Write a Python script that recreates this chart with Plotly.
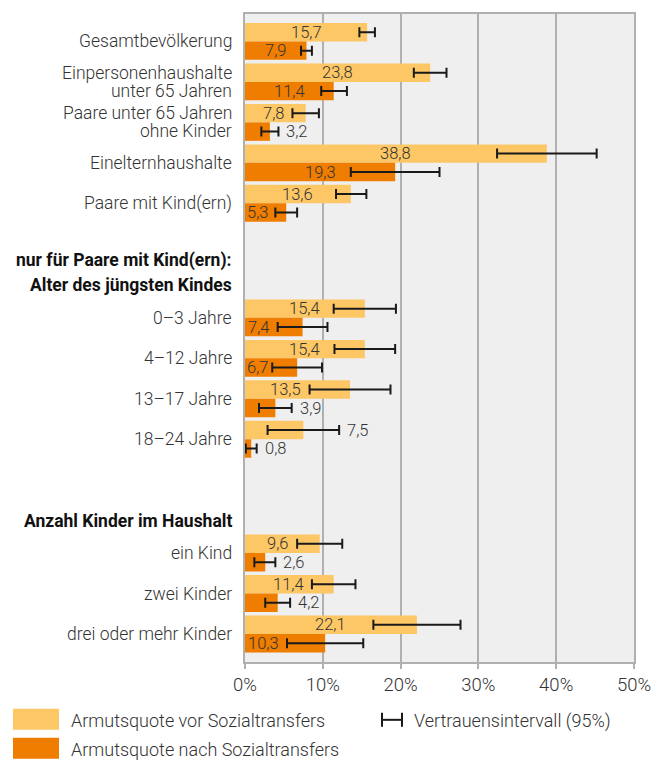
import plotly.graph_objects as go

# ---------------- data ----------------
main_labels = ["Gesamtbevölkerung", "Einpersonenhaushalte<br>unter 65 Jahren",
               "Paare unter 65 Jahren<br>ohne Kinder", "Einelternhaushalte", "Paare mit Kind(ern)"]
main_before = [15.7, 23.8, 7.8, 38.8, 13.6]
main_before_lo = [14.7, 21.7, 6.1, 32.4, 11.7]
main_before_hi = [16.7, 25.9, 9.5, 45.2, 15.6]
main_after = [7.9, 11.4, 3.2, 19.3, 5.3]
main_after_lo = [7.2, 9.8, 2.1, 13.6, 3.9]
main_after_hi = [8.6, 13.1, 4.3, 25.0, 6.7]

age_header = ["nur für Paare mit Kind(ern):", "Alter des jüngsten Kindes"]
age_labels = ["0–3 Jahre", "4–12 Jahre", "13–17 Jahre", "18–24 Jahre"]
age_before = [15.4, 15.4, 13.5, 7.5]
age_before_lo = [11.4, 11.5, 8.3, 2.9]
age_before_hi = [19.4, 19.3, 18.7, 12.1]
age_after = [7.4, 6.7, 3.9, 0.8]
age_after_lo = [4.2, 3.5, 1.8, 0.1]
age_after_hi = [10.6, 9.9, 6.0, 1.5]

kids_header = ["Anzahl Kinder im Haushalt"]
kids_labels = ["ein Kind", "zwei Kinder", "drei oder mehr Kinder"]
kids_before = [9.6, 11.4, 22.1]
kids_before_lo = [6.7, 8.6, 16.5]
kids_before_hi = [12.5, 14.2, 27.7]
kids_after = [2.6, 4.2, 10.3]
kids_after_lo = [1.2, 2.6, 5.4]
kids_after_hi = [3.9, 5.8, 15.2]

x_ticks = [0, 10, 20, 30, 40, 50]
x_ticktext = ["0%", "10%", "20%", "30%", "40%", "50%"]

legend_before = "Armutsquote vor Sozialtransfers"
legend_after = "Armutsquote nach Sozialtransfers"
legend_ci = "Vertrauensintervall (95%)"

# ---------------- layout constants ----------------
PAGE_OFF = 8  # default body margin of the html page
W, H = 662 - PAGE_OFF, 760 - PAGE_OFF
L, R, T, B = 245 - PAGE_OFF, 28, 12 - PAGE_OFF, 98
PW, PH = W - L - R, H - T - B
PX_PER_PCT = PW / 50.0
SLOT_PX = 40.6
FIRST_PX = 39.5 - PAGE_OFF  # pixel centre of first group
Y_TOP = -(FIRST_PX - T) / SLOT_PX
Y_BOT = (H - B - FIRST_PX) / SLOT_PX

AGE_START = 6.83
KIDS_START = 12.64
AGE_HEADER_POS = [5.41, 6.03]
KIDS_HEADER_POS = [11.86]

LIGHT = "#FDC766"
DARK = "#EF7D00"
TXT = "#333333"
FONT = "Roboto"

main_pos = [float(i) for i in range(len(main_labels))]
age_pos = [AGE_START + i for i in range(len(age_labels))]
kids_pos = [KIDS_START + i for i in range(len(kids_labels))]

ypos = main_pos + age_pos + kids_pos
labels = main_labels + age_labels + kids_labels
before = main_before + age_before + kids_before
before_lo = main_before_lo + age_before_lo + kids_before_lo
before_hi = main_before_hi + age_before_hi + kids_before_hi
after = main_after + age_after + kids_after
after_lo = main_after_lo + age_after_lo + kids_after_lo
after_hi = main_after_hi + age_after_hi + kids_after_hi

BW = 0.456

fig = go.Figure()
for vals, lo, hi, col, off in [(before, before_lo, before_hi, LIGHT, -BW),
                               (after, after_lo, after_hi, DARK, 0.0)]:
    fig.add_trace(go.Bar(
        x=vals, y=ypos, orientation="h", width=BW, offset=off,
        marker=dict(color=col, line=dict(width=0)),
        error_x=dict(type="data", symmetric=False,
                     array=[h - v for h, v in zip(hi, vals)],
                     arrayminus=[v - l for v, l in zip(vals, lo)],
                     color="#1a1a1a", thickness=2, width=5),
        showlegend=False, hoverinfo="skip"))

annotations = []
VAL_FS = 16.5


def fmt(v):
    return f"{v:.1f}".replace(".", ",")


def text_w(s):
    return sum(4.0 if c == "," else 9.2 for c in s) * VAL_FS / 16.5


GAP = 8
for vals, lo, hi, off in [(before, before_lo, before_hi, -BW / 2), (after, after_lo, after_hi, BW / 2)]:
    for y, v, l, h in zip(ypos, vals, lo, hi):
        s = fmt(v)
        w = text_w(s)
        if l * PX_PER_PCT >= w + 4:
            c = min(v / 2 * PX_PER_PCT, l * PX_PER_PCT - GAP - w / 2)
            c = max(c, w / 2 + 1.5)
            annotations.append(dict(x=c / PX_PER_PCT, y=y + off, xref="x", yref="y",
                                    text=s, showarrow=False, xanchor="center", yanchor="middle",
                                    font=dict(family=FONT, size=VAL_FS, color=TXT, weight=300)))
        else:
            annotations.append(dict(x=h, y=y + off, xref="x", yref="y", xshift=6,
                                    text=s, showarrow=False, xanchor="left", yanchor="middle",
                                    font=dict(family=FONT, size=VAL_FS, color=TXT, weight=300)))

CAT_FS = 17.5
LINE_PX = 18
for y, lab in zip(ypos, labels):
    lines = lab.split("<br>")
    n = len(lines)
    for i, ln in enumerate(lines):
        annotations.append(dict(x=0, y=y, xref="paper", yref="y", xanchor="right", yanchor="middle",
                                xshift=-11, yshift=((n - 1) / 2 - i) * LINE_PX, text=ln, showarrow=False,
                                font=dict(family=FONT, size=CAT_FS, color=TXT, weight=300)))

for y, lab in zip(AGE_HEADER_POS + KIDS_HEADER_POS, age_header + kids_header):
    annotations.append(dict(x=0, y=y, xref="paper", yref="y", xanchor="right", yanchor="middle",
                            xshift=-11, text="<b>" + lab + "</b>", showarrow=False,
                            font=dict(family=FONT, size=17.5, color="#111111")))


def pxx(px):  # page pixel -> paper x
    return (px - PAGE_OFF - L) / PW


def pxy(py):  # page pixel -> paper y
    return (H - B - (py - PAGE_OFF)) / PH


shapes = []
# legend swatches
shapes.append(dict(type="rect", xref="paper", yref="paper", x0=pxx(13), x1=pxx(59), y0=pxy(730), y1=pxy(709),
                   fillcolor=LIGHT, line=dict(width=0)))
shapes.append(dict(type="rect", xref="paper", yref="paper", x0=pxx(13), x1=pxx(59), y0=pxy(759), y1=pxy(738),
                   fillcolor=DARK, line=dict(width=0)))
# CI legend symbol
shapes.append(dict(type="line", xref="paper", yref="paper", x0=pxx(382), x1=pxx(402), y0=pxy(720), y1=pxy(720),
                   line=dict(color="#1a1a1a", width=2)))
for xx in (382, 402):
    shapes.append(dict(type="line", xref="paper", yref="paper", x0=pxx(xx), x1=pxx(xx), y0=pxy(713), y1=pxy(727),
                       line=dict(color="#1a1a1a", width=2)))

LEG_FS = 18
for text, xpx, ypx in [(legend_before, 69, 721), (legend_after, 69, 750), (legend_ci, 412, 721)]:
    annotations.append(dict(x=pxx(xpx), y=pxy(ypx), xref="paper", yref="paper", xanchor="left",
                            yanchor="middle", text=text, showarrow=False,
                            font=dict(family=FONT, size=LEG_FS, color=TXT, weight=300)))

fig.update_layout(
    width=W, height=H, margin=dict(l=L, r=R, t=T, b=B, pad=0),
    paper_bgcolor="white", plot_bgcolor="#EFEFEF",
    barmode="overlay", showlegend=False,
    annotations=annotations, shapes=shapes,
    font=dict(family=FONT, color=TXT),
)
fig.update_xaxes(range=[0, 50], tickvals=x_ticks, ticktext=x_ticktext,
                 showgrid=True, gridcolor="#B0B0B0", gridwidth=1.5,
                 showline=True, linecolor="#B0B0B0", linewidth=2, mirror=True,
                 ticks="outside", ticklen=5, tickwidth=2, tickcolor="#B0B0B0",
                 tickfont=dict(family=FONT, size=18.5, color=TXT, weight=300),
                 zeroline=False, fixedrange=True)
fig.update_yaxes(range=[Y_BOT, Y_TOP], showticklabels=False, showgrid=False, zeroline=False,
                 showline=True, linecolor="#B0B0B0", linewidth=2, mirror=True, ticks="",
                 fixedrange=True)

fig.write_html("out.html")
